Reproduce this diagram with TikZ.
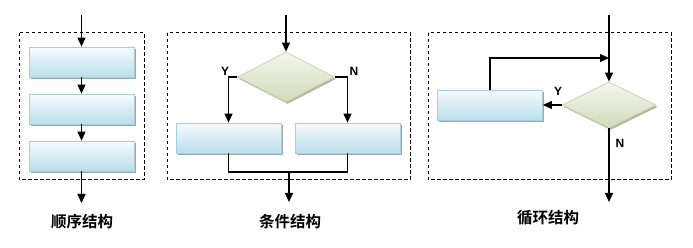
\documentclass[tikz,border=0pt]{standalone}
\usepackage{fontspec}
\setmainfont{Liberation Sans}
\newfontfamily\cjk{Noto Sans CJK SC}[BoldFont={Noto Sans CJK SC Bold}]
\usetikzlibrary{shapes.geometric,shadows,arrows.meta}
\begin{document}
\begin{tikzpicture}[x=1pt,y=-1pt,
  arr/.style={line width=1.2pt,-{Triangle[length=9pt,width=8pt]}},
  wire/.style={line width=1.2pt},
  frame/.style={line width=1pt,dash pattern=on 3.5pt off 2.5pt},
  procbox/.style={rectangle,draw=boxedge,line width=0.8pt,top color=boxtop,bottom color=boxbottom,
    minimum width=105pt,minimum height=30pt,inner sep=0pt,
    drop shadow={shadow xshift=1.5pt,shadow yshift=-2pt,fill=boxshadow,opacity=1}},
  decide/.style={diamond,draw=diaedge,line width=0.8pt,top color=diatop,bottom color=diabottom,
    minimum width=97pt,minimum height=50pt,inner sep=0pt,
    drop shadow={shadow xshift=1.5pt,shadow yshift=-2pt,fill=diashadow,opacity=1}},
  yn/.style={font=\bfseries\fontsize{12}{14}\selectfont},
  caption/.style={font=\cjk\bfseries\fontsize{15.5}{18}\selectfont}]
  \definecolor{boxedge}{RGB}{168,205,222}
  \definecolor{boxtop}{RGB}{246,251,253}
  \definecolor{boxbottom}{RGB}{186,222,235}
  \definecolor{boxshadow}{RGB}{150,170,180}
  \definecolor{diaedge}{RGB}{204,211,180}
  \definecolor{diatop}{RGB}{245,247,236}
  \definecolor{diabottom}{RGB}{210,218,188}
  \definecolor{diashadow}{RGB}{178,185,158}
  \useasboundingbox (0,0) rectangle (693,248);
  \draw[frame] (19,33) rectangle (144,180);
  \draw[frame] (167,33) rectangle (410,180);
  \draw[frame] (428,33) rectangle (671,180);
  \coordinate (sin)  at (81.5,15);
  \coordinate (sout) at (81.5,203);
  \node[procbox] (s1) at (81.5,62)  {};
  \node[procbox] (s2) at (81.5,109) {};
  \node[procbox] (s3) at (81.5,156) {};
  \draw[arr] (sin) -- (s1);
  \draw[arr] (s1) -- (s2);
  \draw[arr] (s2) -- (s3);
  \draw[arr] (s3) -- (sout);
  \node[caption] (seq) at (82,222) {顺序结构};
  \coordinate (cin)  at (286,15);
  \coordinate (cm)   at (289,172);
  \coordinate (cout) at (289,202);
  \node[decide]  (c0) at (286,77)  {};
  \node[procbox] (cy) at (228.5,138) {};
  \node[procbox] (cn) at (347.5,138) {};
  \draw[arr] (cin) -- (c0);
  \draw[arr] (c0.west) -| (cy);
  \draw[arr] (c0.east) -| (cn);
  \draw[wire] (cy.south) |- (cm) -| (cn.south);
  \draw[arr] (cm) -- (cout);
  \node[yn] (cyl) at (225,71) {Y};
  \node[yn] (cnl) at (354,71) {N};
  \node[caption] (sel) at (290,222) {条件结构};
  \coordinate (lin)  at (609,15);
  \coordinate (lj)   at (609,58);
  \coordinate (lout) at (609,202);
  \node[decide,minimum width=94pt,minimum height=46pt] (l0) at (609,105) {};
  \node[procbox] (lb) at (490,105) {};
  \draw[arr] (lin) -- (l0);
  \draw[arr] (l0) -- (lout);
  \draw[arr] (l0.west) -- (lb.east);
  \draw[arr] (lb.north) |- (lj);
  \node[yn] (lyl) at (558,91) {Y};
  \node[yn] (lnl) at (620,143) {N};
  \node[caption] (rep) at (548,218) {循环结构};
\end{tikzpicture}
\end{document}
